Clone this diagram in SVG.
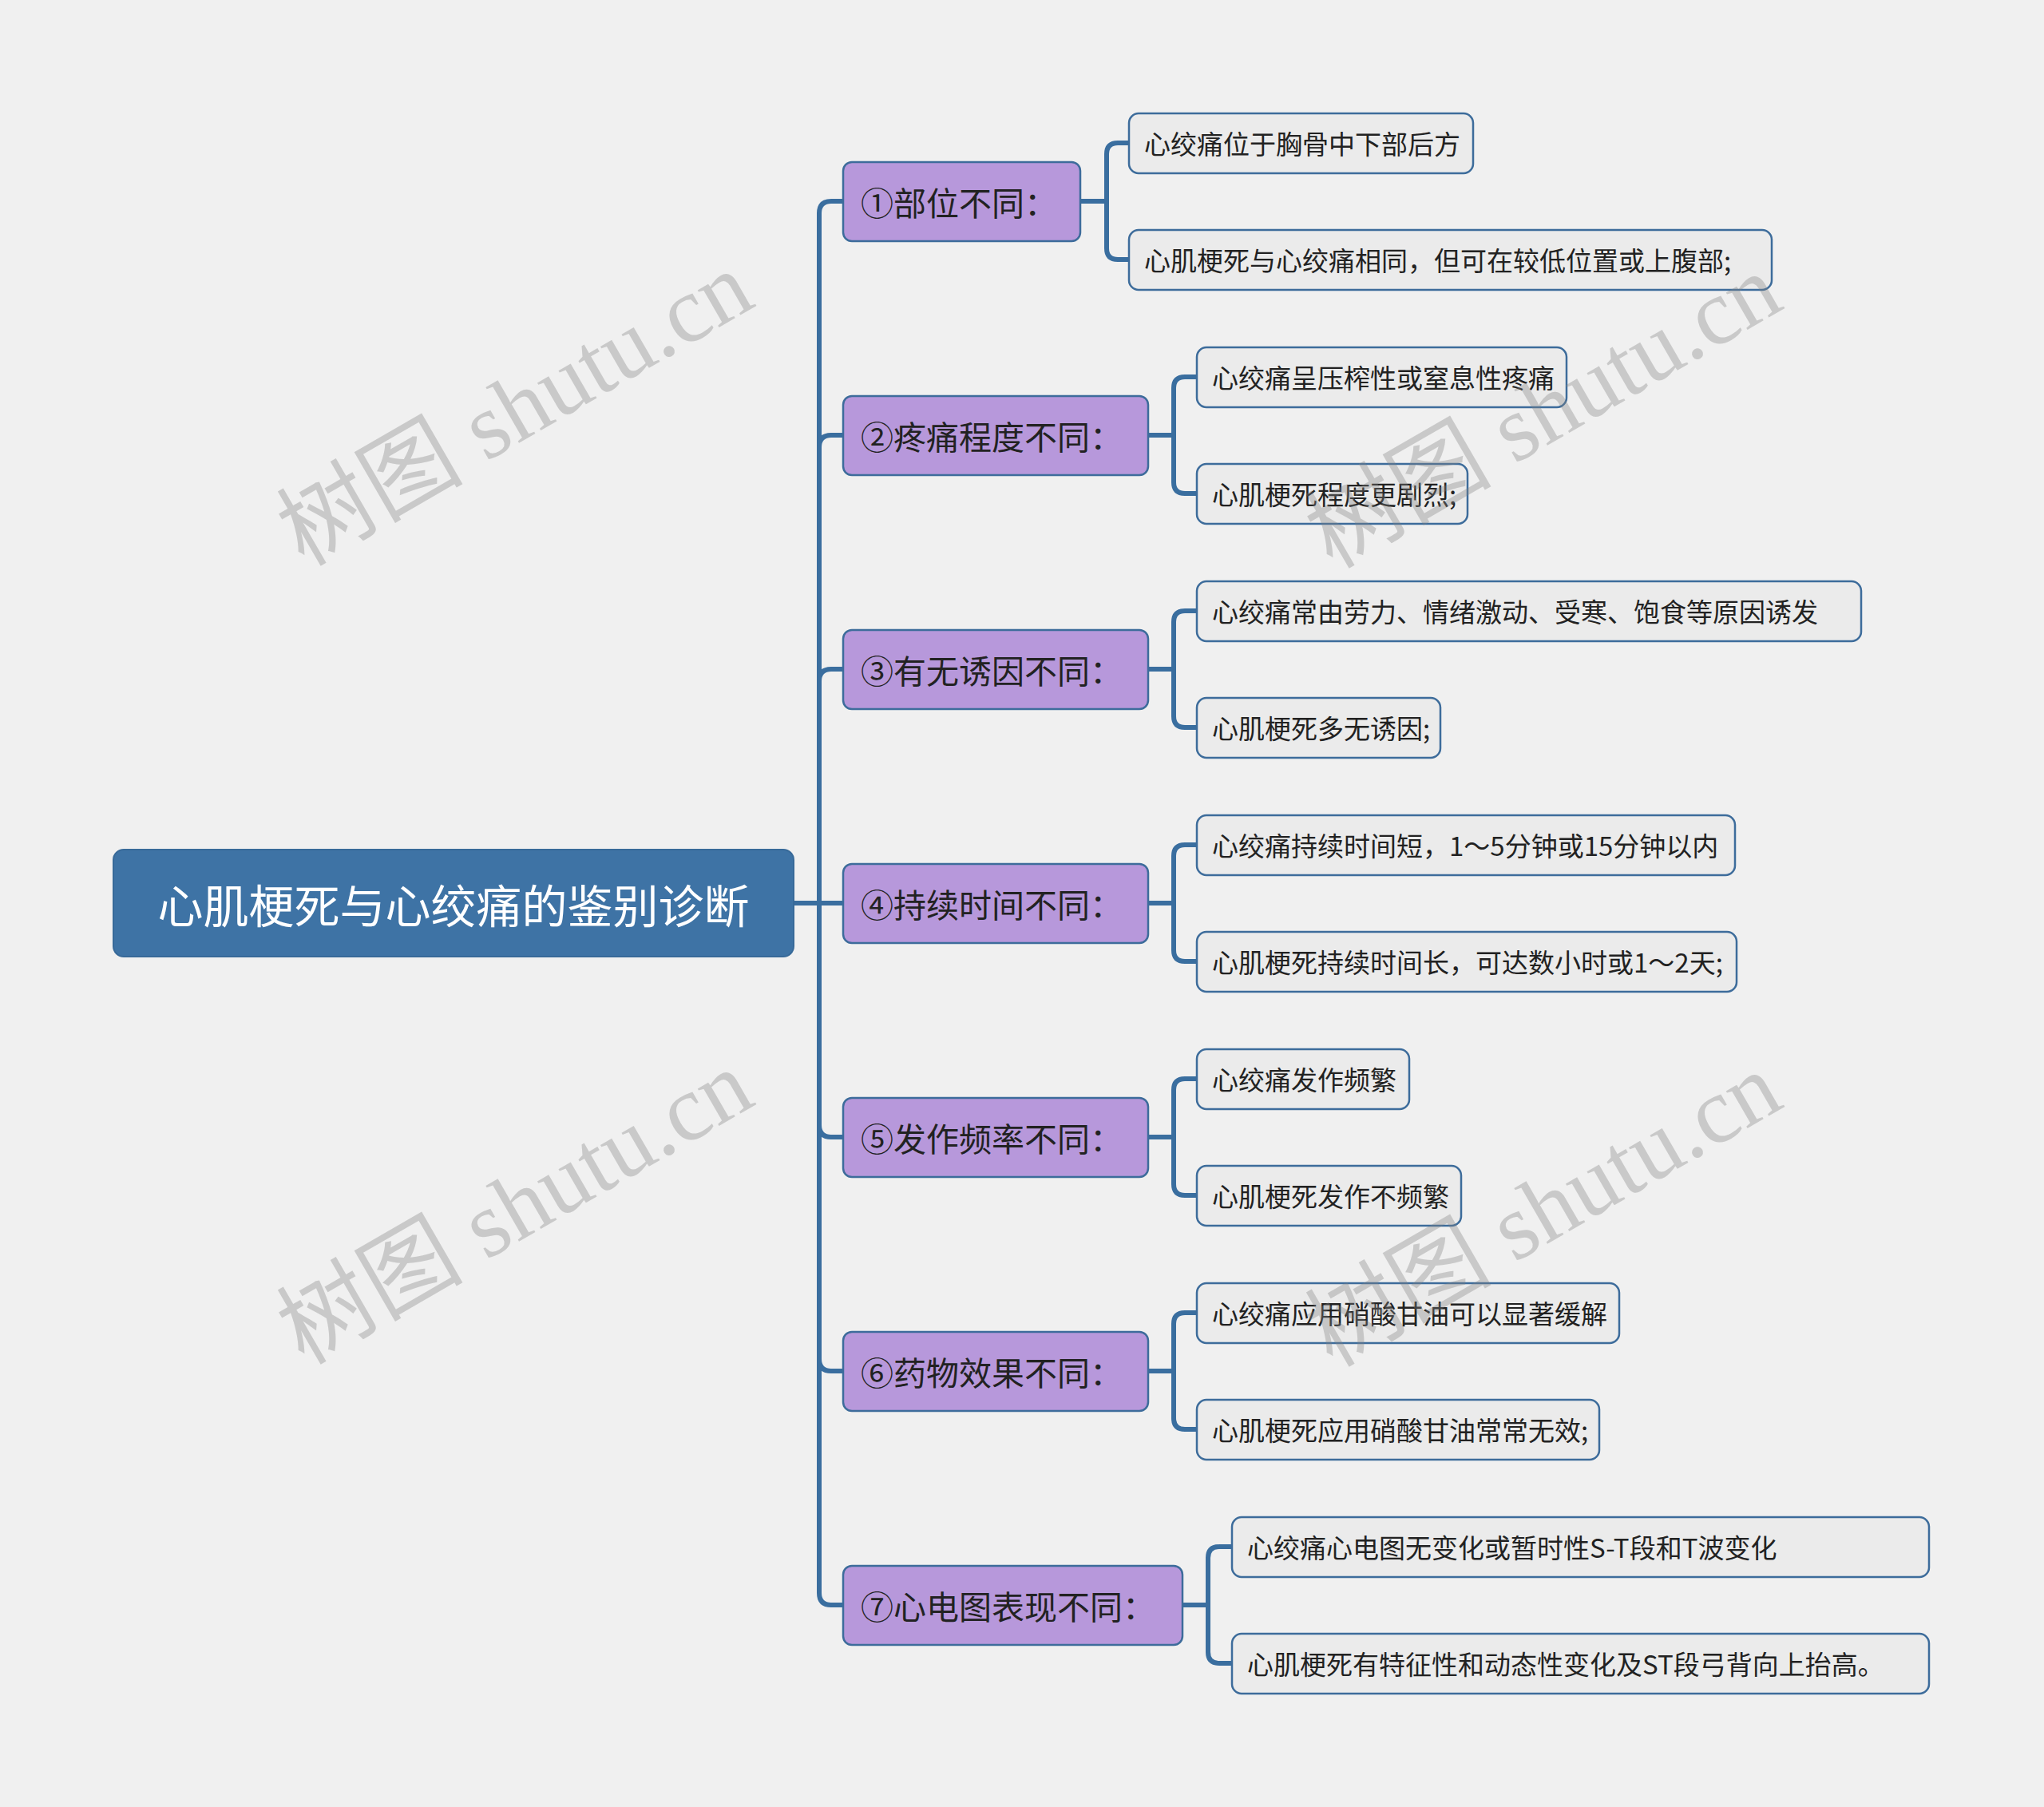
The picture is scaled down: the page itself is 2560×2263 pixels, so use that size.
<svg xmlns="http://www.w3.org/2000/svg" width="2560" height="2263" viewBox="0 0 2560 2263">
<style>
.bg{fill:#f0f0f0}
.root rect{fill:#3e73a5;stroke:#386a99;stroke-width:2}
.root text{fill:#ffffff;font-family:"Noto Sans CJK SC","Noto Sans",sans-serif;font-size:57px;text-anchor:middle;dominant-baseline:central}
.l1 rect{fill:#b798db;stroke:#3d6c9b;stroke-width:2.5}
.l1 text{fill:#222222;font-family:"Noto Sans CJK SC","Noto Sans",sans-serif;font-size:41px;dominant-baseline:central}
.l2 rect{fill:#ebebeb;stroke:#3d6c9b;stroke-width:2.5}
.l2 text{fill:#222222;font-family:"Noto Sans CJK SC","Noto Sans",sans-serif;font-size:33px;dominant-baseline:central}
.conn path{fill:none;stroke:#3a6e9f;stroke-width:6;stroke-linecap:butt}
.wm text{fill:#808080;fill-opacity:0.35;font-family:"Liberation Serif","Noto Sans CJK SC",serif;font-size:117px;text-anchor:middle;dominant-baseline:central}
</style>
<rect class="bg" x="0" y="0" width="2560" height="2263"/>

<g id="connectors" class="conn">
  <path d="M994,1131 H1056"/>
  <path d="M1026,1131 V267 Q1026,252 1041,252 H1056"/>
  <path d="M1026,1131 V560 Q1026,545 1041,545 H1056"/>
  <path d="M1026,1131 V853 Q1026,838 1041,838 H1056"/>
  <path d="M1026,1131 V1409 Q1026,1424 1041,1424 H1056"/>
  <path d="M1026,1131 V1702 Q1026,1717 1041,1717 H1056"/>
  <path d="M1026,1131 V1995 Q1026,2010 1041,2010 H1056"/>

  <path d="M1353,252 H1386"/>
  <path d="M1386,252 V193 Q1386,179 1400,179 H1414"/>
  <path d="M1386,252 V311 Q1386,325 1400,325 H1414"/>

  <path d="M1438,545 H1470"/>
  <path d="M1470,545 V486 Q1470,472 1484,472 H1499"/>
  <path d="M1470,545 V604 Q1470,618 1484,618 H1499"/>

  <path d="M1438,838 H1470"/>
  <path d="M1470,838 V779 Q1470,765 1484,765 H1499"/>
  <path d="M1470,838 V897 Q1470,911 1484,911 H1499"/>

  <path d="M1438,1131 H1470"/>
  <path d="M1470,1131 V1072 Q1470,1058 1484,1058 H1499"/>
  <path d="M1470,1131 V1190 Q1470,1204 1484,1204 H1499"/>

  <path d="M1438,1424 H1470"/>
  <path d="M1470,1424 V1365 Q1470,1351 1484,1351 H1499"/>
  <path d="M1470,1424 V1483 Q1470,1497 1484,1497 H1499"/>

  <path d="M1438,1717 H1470"/>
  <path d="M1470,1717 V1658 Q1470,1644 1484,1644 H1499"/>
  <path d="M1470,1717 V1776 Q1470,1790 1484,1790 H1499"/>

  <path d="M1481,2010 H1513"/>
  <path d="M1513,2010 V1951 Q1513,1937 1527,1937 H1543"/>
  <path d="M1513,2010 V2069 Q1513,2083 1527,2083 H1543"/>
</g>

<g id="root" class="root">
  <rect x="142" y="1064" width="852" height="134" rx="13"/>
  <text x="568" y="1131">心肌梗死与心绞痛的鉴别诊断</text>
</g>

<g id="n1" class="l1"><rect x="1056" y="203" width="297" height="99" rx="11"/><text x="1078" y="252">①部位不同：</text></g>
<g id="n2" class="l1"><rect x="1056" y="496" width="382" height="99" rx="11"/><text x="1078" y="545">②疼痛程度不同：</text></g>
<g id="n3" class="l1"><rect x="1056" y="789" width="382" height="99" rx="11"/><text x="1078" y="838">③有无诱因不同：</text></g>
<g id="n4" class="l1"><rect x="1056" y="1082" width="382" height="99" rx="11"/><text x="1078" y="1131">④持续时间不同：</text></g>
<g id="n5" class="l1"><rect x="1056" y="1375" width="382" height="99" rx="11"/><text x="1078" y="1424">⑤发作频率不同：</text></g>
<g id="n6" class="l1"><rect x="1056" y="1668" width="382" height="99" rx="11"/><text x="1078" y="1717">⑥药物效果不同：</text></g>
<g id="n7" class="l1"><rect x="1056" y="1961" width="425" height="99" rx="11"/><text x="1078" y="2010">⑦心电图表现不同：</text></g>

<g id="n1a" class="l2"><rect x="1414" y="142" width="431" height="75" rx="12"/><text x="1433" y="179">心绞痛位于胸骨中下部后方</text></g>
<g id="n1b" class="l2"><rect x="1414" y="288" width="805" height="75" rx="12"/><text x="1433" y="325">心肌梗死与心绞痛相同，但可在较低位置或上腹部;</text></g>
<g id="n2a" class="l2"><rect x="1499" y="435" width="463" height="75" rx="12"/><text x="1518" y="472">心绞痛呈压榨性或窒息性疼痛</text></g>
<g id="n2b" class="l2"><rect x="1499" y="581" width="339" height="75" rx="12"/><text x="1518" y="618">心肌梗死程度更剧烈;</text></g>
<g id="n3a" class="l2"><rect x="1499" y="728" width="832" height="75" rx="12"/><text x="1518" y="765">心绞痛常由劳力、情绪激动、受寒、饱食等原因诱发</text></g>
<g id="n3b" class="l2"><rect x="1499" y="874" width="305" height="75" rx="12"/><text x="1518" y="911">心肌梗死多无诱因;</text></g>
<g id="n4a" class="l2"><rect x="1499" y="1021" width="674" height="75" rx="12"/><text x="1518" y="1058">心绞痛持续时间短，1～5分钟或15分钟以内</text></g>
<g id="n4b" class="l2"><rect x="1499" y="1167" width="676" height="75" rx="12"/><text x="1518" y="1204">心肌梗死持续时间长，可达数小时或1～2天;</text></g>
<g id="n5a" class="l2"><rect x="1499" y="1314" width="266" height="75" rx="12"/><text x="1518" y="1351">心绞痛发作频繁</text></g>
<g id="n5b" class="l2"><rect x="1499" y="1460" width="331" height="75" rx="12"/><text x="1518" y="1497">心肌梗死发作不频繁</text></g>
<g id="n6a" class="l2"><rect x="1499" y="1607" width="529" height="75" rx="12"/><text x="1518" y="1644">心绞痛应用硝酸甘油可以显著缓解</text></g>
<g id="n6b" class="l2"><rect x="1499" y="1753" width="504" height="75" rx="12"/><text x="1518" y="1790">心肌梗死应用硝酸甘油常常无效;</text></g>
<g id="n7a" class="l2"><rect x="1543" y="1900" width="873" height="75" rx="12"/><text x="1562" y="1937">心绞痛心电图无变化或暂时性S-T段和T波变化</text></g>
<g id="n7b" class="l2"><rect x="1543" y="2046" width="873" height="75" rx="12"/><text x="1562" y="2083">心肌梗死有特征性和动态性变化及ST段弓背向上抬高。</text></g>

<g id="watermarks" class="wm">
  <text x="645" y="512" transform="rotate(-30 645 512)">树图 shutu.cn</text>
  <text x="1933" y="515" transform="rotate(-30 1933 515)">树图 shutu.cn</text>
  <text x="645" y="1512" transform="rotate(-30 645 1512)">树图 shutu.cn</text>
  <text x="1933" y="1515" transform="rotate(-30 1933 1515)">树图 shutu.cn</text>
</g>
</svg>
